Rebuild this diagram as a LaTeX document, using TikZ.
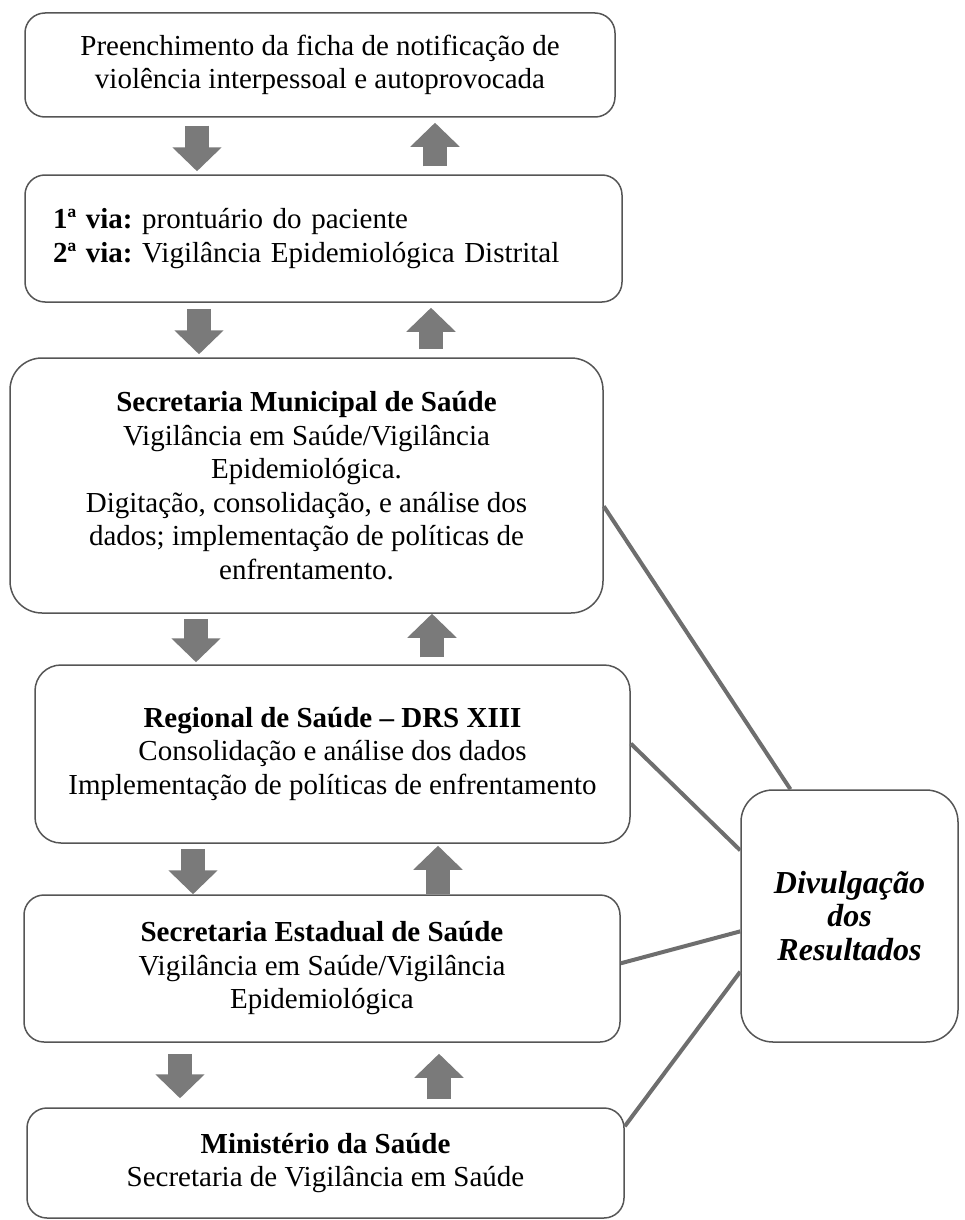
\documentclass[tikz,border=0pt]{standalone}
\usepackage{fontspec}
\setmainfont{Liberation Serif}
\usetikzlibrary{arrows.meta}

\definecolor{arrowgray}{RGB}{122,122,122}
\definecolor{edgegray}{RGB}{85,85,85}
\definecolor{linkgray}{RGB}{110,110,110}

\tikzset{%
  every node/.style={
    font=\fontsize{29}{33.5}\selectfont\frenchspacing, inner sep=0pt
  },
  box/.style={
    draw=edgegray, line width=1.5pt, rounded corners=20pt, align=center
  },
  flow/.style={
    arrowgray, line width=24pt, -{Triangle[width=48pt,length=24pt]}
  },
  link/.style={
    linkgray, line width=4pt
  }
}

\begin{document}
\begin{tikzpicture}[x=1pt,y=-1pt]
      \useasboundingbox (0,0) rectangle (965,1220);
      \node[box, minimum width=590, minimum height=104] at (320,65) (b1)
        {Preenchimento da ficha de notificação de\\violência interpessoal e autoprovocada};
      \node[box, text width=541, inner xsep=28, minimum height=127, align=left] at (323.5,238.5) (b2)
        {\textbf{1ª via:} prontuário do paciente\\\textbf{2ª via:} Vigilância Epidemiológica Distrital};
      \node[box, rounded corners=32pt, minimum width=593, minimum height=255] at (306.5,485.5) (b3)
        {\textbf{Secretaria Municipal de Saúde}\\Vigilância em Saúde/Vigilância\\Epidemiológica.\\Digitação, consolidação, e análise dos\\dados; implementação de políticas de\\enfrentamento.};
      \node[box, rounded corners=26pt, minimum width=595, minimum height=178] at (332.5,754) (b4)
        {\textbf{Regional de Saúde – DRS XIII}\\Consolidação e análise dos dados\\Implementação de políticas de enfrentamento};
      \node[box, minimum width=596, minimum height=147] at (322,968.5) (b5)
        {\textbf{Secretaria Estadual de Saúde}\\Vigilância em Saúde/Vigilância\\Epidemiológica};
      \node[box, minimum width=597, minimum height=110] at (325.5,1163) (b6)
        {\textbf{Ministério da Saúde}\\Secretaria de Vigilância em Saúde};
      \node[box, rounded corners=32pt, minimum width=217, minimum height=252,
            font=\fontsize{32}{33.5}\selectfont\bfseries\itshape] at (849.5,916) (div)
        {Divulgação\\dos\\Resultados};
      % setas entre as etapas
      \draw[flow, shorten <=8, shorten >=3] (197,0 |- b1.south) -- (197,0 |- b2.north);
      \draw[flow, shorten <=8, shorten >=5] (435,0 |- b2.north) -- (435,0 |- b1.south);
      \draw[flow, shorten <=6, shorten >=3] (199,0 |- b2.south) -- (199,0 |- b3.north);
      \draw[flow, shorten <=8, shorten >=5] (431,0 |- b3.north) -- (431,0 |- b2.south);
      \draw[flow, shorten <=5, shorten >=2] (196,0 |- b3.south) -- (196,0 |- b4.north);
      \draw[flow, shorten <=7, shorten >=0] (432,0 |- b4.north) -- (432,0 |- b3.south);
      \draw[flow, shorten <=5, shorten >=0] (193,0 |- b4.south) -- (193,0 |- b5.north);
      \draw[flow, shorten <=0, shorten >=2] (438,0 |- b5.north) -- (438,0 |- b4.south);
      \draw[flow, shorten <=11, shorten >=9] (180,0 |- b5.south) -- (180,0 |- b6.north);
      \draw[flow, shorten <=8, shorten >=11] (439,0 |- b6.north) -- (439,0 |- b5.south);
      % ligacoes com a divulgacao
      \draw[link] (b3.-4) -- (div.115);
      \draw[link] (b4.2) -- (div.149);
      \draw[link] (b5.1) -- (div.188);
      \draw[link] (b6.7) -- (div.207);
\end{tikzpicture}
\end{document}
